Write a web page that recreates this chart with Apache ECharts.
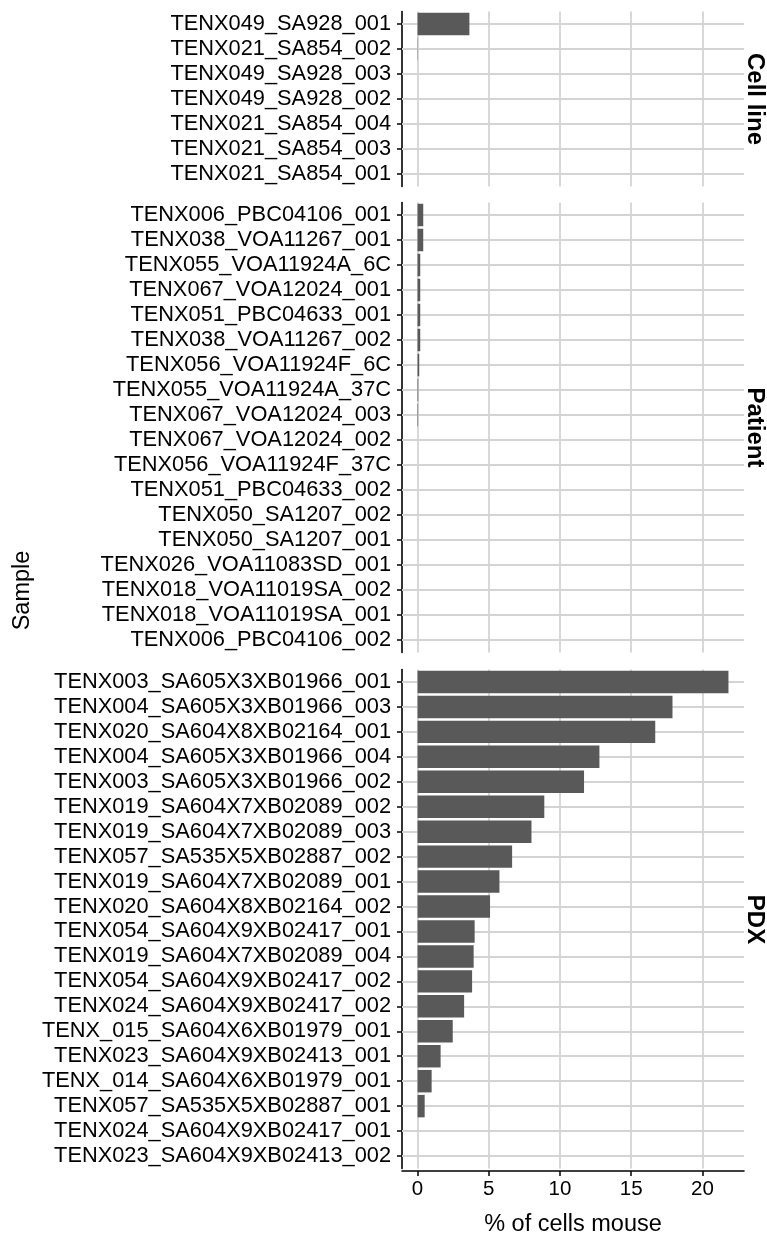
<!DOCTYPE html>
<html>
<head>
<meta charset="utf-8">
<title>% of cells mouse by sample</title>
<script src="https://cdn.jsdelivr.net/npm/echarts@6/dist/echarts.min.js"></script>
<style>
  html, body { margin: 0; padding: 0; background: #ffffff; }
  #chart { width: 767px; height: 1238px; }
</style>
</head>
<body>
<div id="chart"></div>
<script>
// Samples per facet, listed top to bottom
const cellLineSamples = [
  'TENX049_SA928_001', 'TENX021_SA854_002', 'TENX049_SA928_003', 'TENX049_SA928_002',
  'TENX021_SA854_004', 'TENX021_SA854_003', 'TENX021_SA854_001'
];
const cellLineValues = [3.64, 0.02, 0, 0, 0, 0, 0];

const patientSamples = [
  'TENX006_PBC04106_001', 'TENX038_VOA11267_001', 'TENX055_VOA11924A_6C', 'TENX067_VOA12024_001',
  'TENX051_PBC04633_001', 'TENX038_VOA11267_002', 'TENX056_VOA11924F_6C', 'TENX055_VOA11924A_37C',
  'TENX067_VOA12024_003', 'TENX067_VOA12024_002', 'TENX056_VOA11924F_37C', 'TENX051_PBC04633_002',
  'TENX050_SA1207_002', 'TENX050_SA1207_001', 'TENX026_VOA11083SD_001', 'TENX018_VOA11019SA_002',
  'TENX018_VOA11019SA_001', 'TENX006_PBC04106_002'
];
const patientValues = [0.40, 0.40, 0.19, 0.19, 0.19, 0.19, 0.12, 0.05, 0.04, 0, 0, 0, 0, 0, 0, 0, 0, 0];

const pdxSamples = [
  'TENX003_SA605X3XB01966_001', 'TENX004_SA605X3XB01966_003', 'TENX020_SA604X8XB02164_001',
  'TENX004_SA605X3XB01966_004', 'TENX003_SA605X3XB01966_002', 'TENX019_SA604X7XB02089_002',
  'TENX019_SA604X7XB02089_003', 'TENX057_SA535X5XB02887_002', 'TENX019_SA604X7XB02089_001',
  'TENX020_SA604X8XB02164_002', 'TENX054_SA604X9XB02417_001', 'TENX019_SA604X7XB02089_004',
  'TENX054_SA604X9XB02417_002', 'TENX024_SA604X9XB02417_002', 'TENX_015_SA604X6XB01979_001',
  'TENX023_SA604X9XB02413_001', 'TENX_014_SA604X6XB01979_001', 'TENX057_SA535X5XB02887_001',
  'TENX024_SA604X9XB02417_001', 'TENX023_SA604X9XB02413_002'
];
const pdxValues = [21.83, 17.9, 16.69, 12.77, 11.69, 8.9, 8.0, 6.64, 5.75, 5.09, 4.01, 3.94, 3.83, 3.27, 2.47, 1.62, 0.99, 0.5, 0, 0];

const facetNames = ['Cell line', 'Patient', 'PDX'];
const xTicks = [0, 5, 10, 15, 20];
const xTitle = '% of cells mouse';
const yTitle = 'Sample';

// ---- layout ----
const FONT = '"Liberation Sans", Arial, Helvetica, sans-serif';
const ROW = 25;            // pixels per sample row
const PAD = 2.5;           // extra space so each panel has 0.6 row of padding
const panelLeft = 402;
const panelRight = 23;
const panelTops = [9, 200, 667];
const dataMax = Math.max(...cellLineValues, ...patientValues, ...pdxValues);
const xMin = -dataMax * 0.05;
const xMax = dataMax * 1.05;

const facets = [
  { names: cellLineSamples, values: cellLineValues },
  { names: patientSamples, values: patientValues },
  { names: pdxSamples, values: pdxValues }
];

const grids = [], xAxes = [], yAxes = [], series = [], graphics = [];
const gridColor = '#d4d4d4';

facets.forEach((f, i) => {
  const top = panelTops[i] + PAD;
  const height = f.names.length * ROW;
  const isLast = i === facets.length - 1;
  grids.push({ left: panelLeft, right: panelRight, top: top, height: height, containLabel: false });

  xAxes.push({
    type: 'value', gridIndex: i, min: xMin, max: xMax,
    show: true,
    offset: PAD,
    axisLine: { show: isLast, onZero: false, lineStyle: { color: '#000', width: 1.6 } },
    axisTick: { show: isLast, length: 5, customValues: xTicks, lineStyle: { color: '#000', width: 1.5 } },
    axisLabel: { show: isLast, customValues: xTicks, margin: 8, color: '#000', fontSize: 20.5, fontFamily: FONT },
    splitLine: { show: false },
    name: isLast ? xTitle : '',
    nameLocation: 'middle', nameGap: 42,
    nameTextStyle: { color: '#000', fontSize: 23.5, fontFamily: FONT }
  });

  yAxes.push({
    type: 'category', gridIndex: i, data: f.names, inverse: true,
    axisLine: { show: true, onZero: false, lineStyle: { color: '#000', width: 1.6 } },
    axisTick: { show: true, alignWithLabel: true, length: 5, lineStyle: { color: '#000', width: 1.5 } },
    axisLabel: { margin: 11, color: '#000', fontSize: 21.8, fontFamily: FONT, interval: 0 },
    splitLine: { show: false }
  });

  // background grid lines: vertical at x ticks, horizontal at each sample
  series.push({
    type: 'line', xAxisIndex: i, yAxisIndex: i, data: [], silent: true, animation: false,
    markLine: {
      silent: true, animation: false, symbol: ['none', 'none'], z: 1,
      label: { show: false },
      lineStyle: { color: gridColor, width: 1.8, type: 'solid' },
      data: xTicks.map(v => ({ xAxis: v })).concat(f.names.map(n => ({ yAxis: n })))
    }
  });

  series.push({
    type: 'bar', xAxisIndex: i, yAxisIndex: i, data: f.values, z: 3,
    barCategoryGap: '10%', animation: false,
    itemStyle: { color: '#595959' }
  });

  // facet strip label on the right side
  graphics.push({
    type: 'text', rotation: -Math.PI / 2,
    x: 755, y: panelTops[i] + PAD + height / 2,
    style: {
      text: facetNames[i], fill: '#000', font: 'bold 24px ' + FONT,
      align: 'center', verticalAlign: 'middle'
    }
  });
});

// shared y-axis title centred on all panels
const lastTop = panelTops[2] + 2 * PAD + pdxSamples.length * ROW;
graphics.push({
  type: 'text', rotation: Math.PI / 2,
  x: 23, y: (panelTops[0] + lastTop) / 2,
  style: { text: yTitle, fill: '#000', font: '23.5px ' + FONT, align: 'center', verticalAlign: 'middle' }
});

const chart = echarts.init(document.getElementById('chart'), null, { renderer: 'canvas' });
chart.setOption({
  animation: false,
  backgroundColor: '#ffffff',
  grid: grids,
  xAxis: xAxes,
  yAxis: yAxes,
  series: series,
  graphic: graphics
});
</script>
</body>
</html>
